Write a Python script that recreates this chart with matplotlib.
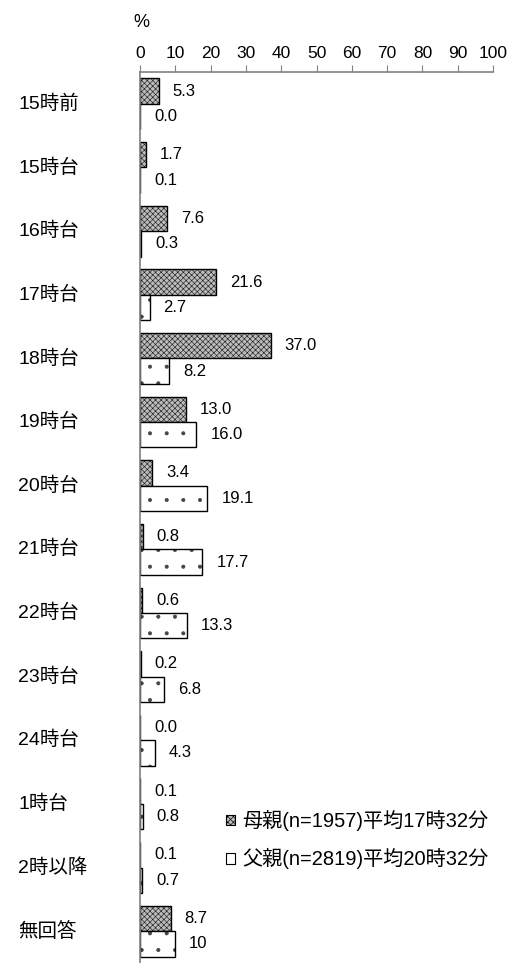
import numpy as np
import matplotlib
matplotlib.use("Agg")
import matplotlib.pyplot as plt
from matplotlib.patches import Patch
from matplotlib.transforms import blended_transform_factory

plt.rcParams["font.family"] = ["Liberation Sans", "Noto Sans CJK JP"]
plt.rcParams["hatch.linewidth"] = 0.45

categories = ["15時前", "15時台", "16時台", "17時台", "18時台", "19時台", "20時台",
              "21時台", "22時台", "23時台", "24時台", "1時台", "2時以降", "無回答"]
mother = [5.3, 1.7, 7.6, 21.6, 37.0, 13.0, 3.4, 0.8, 0.6, 0.2, 0.0, 0.1, 0.1, 8.7]
father = [0.0, 0.1, 0.3, 2.7, 8.2, 16.0, 19.1, 17.7, 13.3, 6.8, 4.3, 0.8, 0.7, 10]
father_text = ["0.0", "0.1", "0.3", "2.7", "8.2", "16.0", "19.1", "17.7", "13.3",
               "6.8", "4.3", "0.8", "0.7", "10"]
legend_labels = ["母親(n=1957)平均17時32分", "父親(n=2819)平均20時32分"]
x_ticks = list(range(0, 101, 10))

fig = plt.figure(figsize=(5.16, 9.63), dpi=100)
ax = fig.add_axes([140 / 516, 0, (493 - 140) / 516, 1 - 72 / 963])

y = np.arange(len(categories))
h = 0.40
axis_grey = "#808080"
m_face = "#bcbcbc"

# hatch layer first, then a black outline on top
ax.barh(y - h / 2, mother, height=h, color=m_face, edgecolor="#222222",
        hatch="xxxxxx", linewidth=0)
ax.barh(y - h / 2, mother, height=h, fill=False, edgecolor="black", linewidth=1.0)
ax.barh(y + h / 2, father, height=h, color="white", edgecolor="#444444",
        hatch=".", linewidth=0)
ax.barh(y + h / 2, father, height=h, fill=False, edgecolor="black", linewidth=1.0)

for i in range(len(categories)):
    ax.annotate(f"{mother[i]:.1f}", (mother[i], y[i] - h / 2), xytext=(10, 0),
                textcoords="offset points", va="center", ha="left", fontsize=12)
    ax.annotate(father_text[i], (father[i], y[i] + h / 2), xytext=(10, 0),
                textcoords="offset points", va="center", ha="left", fontsize=12)

ax.set_xlim(0, 100)
ax.set_ylim(13.5, -0.5)
ax.xaxis.tick_top()
ax.set_xticks(x_ticks)
ax.tick_params(axis="x", direction="out", length=5, color=axis_grey,
               labelsize=12.5, pad=3)
ax.set_yticks([])
for s in ["right", "bottom"]:
    ax.spines[s].set_visible(False)
for s in ["top", "left"]:
    ax.spines[s].set_color(axis_grey)
    ax.spines[s].set_linewidth(1.2)

ax.text(0.005, 1.046, "%", transform=ax.transAxes, fontsize=13, ha="center",
        va="bottom")

tr = blended_transform_factory(fig.transFigure, ax.transData)
for i, c in enumerate(categories):
    ax.text(18 / 516, y[i], c, transform=tr, ha="left", va="center",
            fontsize=14)

handles = [Patch(facecolor=m_face, edgecolor="black", hatch="xxxxxx", lw=0.8),
           Patch(facecolor="white", edgecolor="black", lw=0.8)]
fig.legend(handles, legend_labels, loc="upper left",
           bbox_to_anchor=(208 / 516, 1 - 792 / 963), frameon=False,
           fontsize=14.5, handlelength=0.45, handleheight=0.45, handletextpad=0.35,
           labelspacing=0.85)

fig.savefig("out.png", dpi=100)
